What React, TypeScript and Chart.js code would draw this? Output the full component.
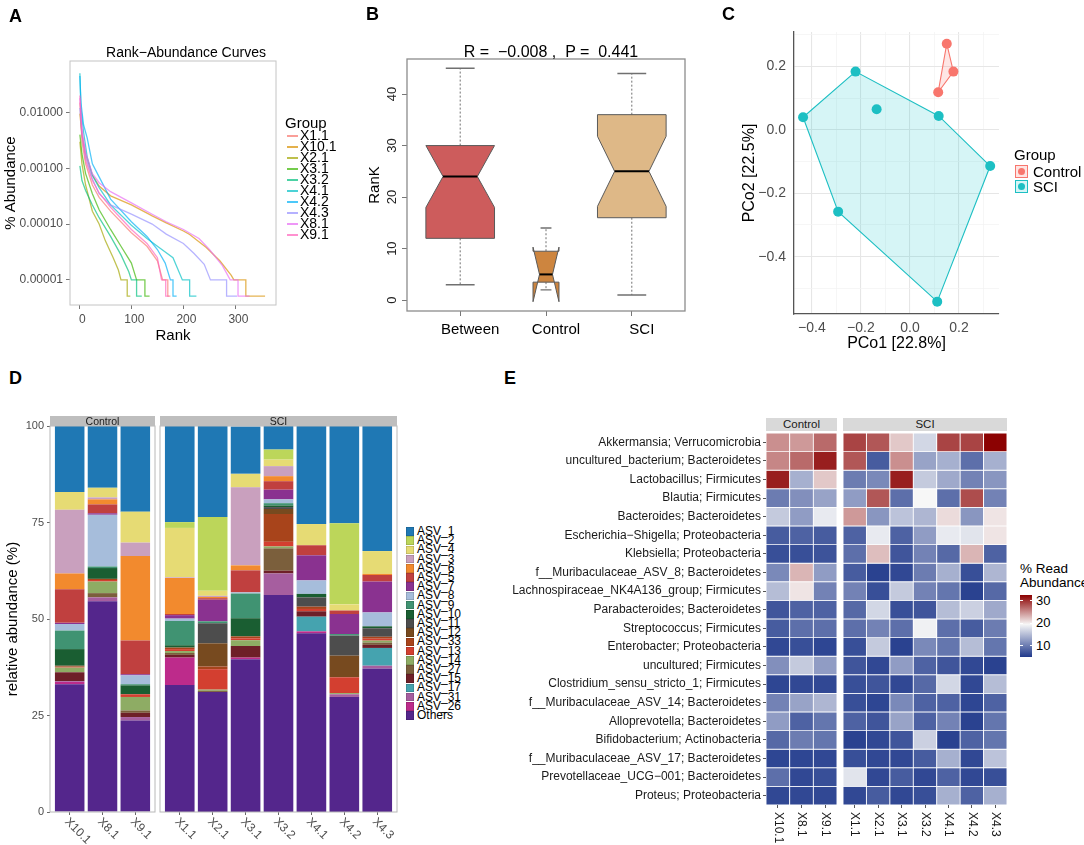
import React, { useEffect, useRef } from "react";
import { Chart, registerables } from "chart.js";

Chart.register(...registerables);

const FONT = "'Liberation Sans', Arial, Helvetica, sans-serif";
Chart.defaults.font.family = FONT;

/* ================= Panel A : rank-abundance curves ================= */
const rankSamples = ["X1.1", "X10.1", "X2.1", "X3.1", "X3.2", "X4.1", "X4.2", "X4.3", "X8.1", "X9.1"];
const rankColors = ["#F8766D", "#D89000", "#A3A500", "#39B600", "#00BF7D", "#00BFC4", "#00B0F6", "#9590FF", "#E76BF3", "#FF62BC"];
const rankTicks = [0, 100, 200, 300];
const abundanceTicks = [0.00001, 0.0001, 0.001, 0.01];

const curveX1_1 = [[1, 0.015], [5, 0.003], [12, 0.0012], [25, 0.0005], [38, 0.0003], [60, 0.00017], [100, 0.00007], [130, 0.00004], [150, 0.000022], [160, 0.00001], [170, 0.00001], [170, 0.0000051], [175, 0.0000051]];
const curveX10_1 = [[1, 0.0095], [5, 0.004], [12, 0.0018], [25, 0.00075], [38, 0.00048], [60, 0.00032], [100, 0.00022], [140, 0.00014], [167, 0.000105], [200, 0.000075], [212, 0.000065], [244, 0.000038], [270, 0.000022], [292, 0.000012], [297, 0.00001], [320, 0.00001], [320, 0.0000051], [357, 0.0000051]];
const curveX2_1 = [[1, 0.003], [5, 0.0012], [12, 0.0005], [25, 0.00017], [38, 0.0001], [50, 0.00005], [65, 0.000025], [75, 0.000015], [80, 0.00001], [92, 0.00001], [92, 0.0000051], [98, 0.0000051]];
const curveX3_1 = [[1, 0.004], [5, 0.0018], [12, 0.0008], [25, 0.00035], [38, 0.00018], [60, 0.00008], [80, 0.00004], [100, 0.00002], [110, 0.00001], [126, 0.00001], [126, 0.0000051], [135, 0.0000051]];
const curveX3_2 = [[1, 0.0011], [5, 0.0006], [12, 0.0004], [25, 0.00022], [38, 0.00013], [60, 0.00006], [80, 0.000028], [95, 0.000014], [100, 0.00001], [110, 0.00001], [110, 0.0000051], [120, 0.0000051]];
const curveX4_1 = [[1, 0.05], [3, 0.012], [8, 0.0045], [15, 0.0016], [25, 0.00075], [38, 0.00045], [60, 0.00022], [100, 0.000095], [130, 0.000055], [150, 0.00004], [180, 0.000025], [198, 0.00001], [212, 0.00001], [212, 0.0000051], [225, 0.0000051]];
const curveX4_2 = [[1, 0.045], [3, 0.015], [8, 0.006], [15, 0.0035], [25, 0.0012], [38, 0.0007], [60, 0.00028], [100, 0.00011], [130, 0.00006], [150, 0.000035], [165, 0.00002], [175, 0.00001], [180, 0.00001], [180, 0.0000051], [187, 0.0000051]];
const curveX4_3 = [[1, 0.012], [5, 0.004], [12, 0.0016], [25, 0.00065], [38, 0.00035], [60, 0.00022], [100, 0.00015], [140, 0.0001], [167, 0.000066], [200, 0.000045], [220, 0.00003], [240, 0.000019], [252, 0.00001], [283, 0.00001], [283, 0.0000051], [303, 0.0000051]];
const curveX8_1 = [[1, 0.018], [5, 0.005], [12, 0.0019], [25, 0.0008], [38, 0.00055], [60, 0.00038], [100, 0.00024], [140, 0.00015], [167, 0.00011], [200, 0.00008], [230, 0.000055], [250, 0.000035], [275, 0.000018], [290, 0.00001], [305, 0.00001], [305, 0.0000051], [327, 0.0000051]];
const curveX9_1 = [[1, 0.02], [5, 0.004], [12, 0.0014], [25, 0.0006], [38, 0.00036], [60, 0.0002], [100, 0.00008], [130, 0.000045], [150, 0.000025], [158, 0.00001], [166, 0.00001], [166, 0.0000051], [172, 0.0000051]];
const rankCurves = [curveX1_1, curveX10_1, curveX2_1, curveX3_1, curveX3_2, curveX4_1, curveX4_2, curveX4_3, curveX8_1, curveX9_1];

/* ================= Panel B : notched box plot ================= */
const boxGroups = ["Between", "Control", "SCI"];
const boxColors = ["#CD5C5C", "#CD853F", "#DEB887"];
const boxMin = [3, 2, 1];
const boxQ1 = [12, 3.5, 16];
const boxMedian = [24, 5, 25];
const boxQ3 = [30, 9.5, 36];
const boxMax = [45, 14, 44];
const boxNotchLo = [18, -0.3, 18.2];
const boxNotchHi = [30, 10.3, 31.8];
const boxN = [21, 3, 21];
const boxTicks = [0, 10, 20, 30, 40];

/* ================= Panel C : PCoA ================= */
const pcoaControlX = [0.150, 0.177, 0.115];
const pcoaControlY = [0.272, 0.184, 0.119];
const pcoaSCIX = [-0.436, -0.222, -0.136, 0.117, 0.327, -0.293, 0.111];
const pcoaSCIY = [0.040, 0.184, 0.065, 0.044, -0.114, -0.258, -0.542];
const pcoaMajorX = [-0.4, -0.2, 0, 0.2];
const pcoaGridX = [-0.4, -0.3, -0.2, -0.1, 0, 0.1, 0.2, 0.3];
const pcoaMajorY = [-0.4, -0.2, 0, 0.2];
const pcoaGridY = [-0.5, -0.4, -0.3, -0.2, -0.1, 0, 0.1, 0.2, 0.3];

/* ================= Panel D : stacked composition ================= */
const stackSamples = ["X10.1", "X8.1", "X9.1", "X1.1", "X2.1", "X3.1", "X3.2", "X4.1", "X4.2", "X4.3"];
const asvNames = ["ASV_1", "ASV_2", "ASV_4", "ASV_3", "ASV_6", "ASV_5", "ASV_7", "ASV_8", "ASV_9", "ASV_10", "ASV_11", "ASV_12", "ASV_33", "ASV_13", "ASV_14", "ASV_27", "ASV_15", "ASV_17", "ASV_31", "ASV_26", "Others"];
const asvColors = ["#1F78B4", "#BCD65A", "#E6DB74", "#C9A0BE", "#F28A2E", "#C0403F", "#8A3290", "#A6BDDB", "#409372", "#1A5E32", "#4D4D4D", "#774A1F", "#A8441B", "#D33F30", "#8EAC64", "#7B5F3C", "#6E1F28", "#45A3AF", "#A65E9F", "#BD2B8B", "#54268C"];
const asv1 = [17.1, 16.0, 22.3, 25.1, 23.6, 12.3, 6.1, 25.5, 25.3, 32.4];
const asv2 = [0, 0, 0, 1.5, 19.1, 0, 2.6, 0, 21.0, 0];
const asv4 = [4.6, 2.5, 8.0, 12.8, 1.3, 3.5, 1.7, 5.5, 1.6, 5.9];
const asv3 = [16.5, 0.5, 3.5, 0.2, 0.3, 20.2, 2.6, 0, 0, 0];
const asv6 = [4.1, 1.3, 21.9, 9.3, 0.3, 1.3, 1.3, 0, 0, 0.3];
const asv5 = [8.7, 2.3, 8.7, 0.3, 0.4, 5.7, 2.2, 2.6, 0.9, 1.7];
const asv7 = [0.3, 0.4, 0.3, 0.9, 5.6, 0, 2.5, 6.5, 5.2, 8.0];
const asv8 = [1.7, 13.4, 2.3, 0.6, 0, 0.3, 1.0, 3.5, 0, 3.6];
const asv9 = [4.8, 0.4, 0.3, 6.3, 0.5, 6.4, 0.6, 0, 0.4, 0];
const asv10 = [4.3, 2.8, 2.3, 0.6, 0, 4.7, 0.4, 0.9, 0, 0.5];
const asv11 = [0, 0, 0, 0, 5.2, 0, 0.5, 2.4, 5.2, 2.2];
const asv12 = [0.2, 0, 0, 0, 6.0, 0, 1.3, 0, 5.6, 0];
const asv33 = [0.15, 0.3, 0, 0.4, 0.7, 0.5, 7.2, 0.6, 0, 0.5];
const asv13 = [0.15, 0.4, 0.7, 0.5, 5.3, 0.5, 1.2, 0.6, 4.1, 0.5];
const asv14 = [1.2, 3.0, 3.5, 0.5, 0.3, 1.5, 0.5, 0, 0.3, 0.5];
const asv27 = [0, 1.1, 0.6, 0.5, 0.3, 0, 5.8, 0, 0, 0.6];
const asv15 = [2.3, 0, 1.1, 0.7, 0, 3.0, 0.7, 1.4, 0, 0.8];
const asv17 = [0, 0, 0, 0, 0, 0, 0, 3.8, 0, 4.6];
const asv31 = [0.2, 1.0, 0.9, 0, 0, 0, 5.6, 0, 0.7, 0.7];
const asv26 = [0.6, 0, 0, 7.1, 0, 0.4, 0, 0.5, 0, 0];
const asvOthers = [33.1, 54.6, 23.7, 32.9, 31.1, 39.6, 56.2, 46.3, 29.8, 37.2];
const asvValues = [asv1, asv2, asv4, asv3, asv6, asv5, asv7, asv8, asv9, asv10, asv11, asv12, asv33, asv13, asv14, asv27, asv15, asv17, asv31, asv26, asvOthers];
const stackTicks = [0, 25, 50, 75, 100];

/* ================= Panel E : heatmap ================= */
const heatControlSamples = ["X10.1", "X8.1", "X9.1"];
const heatSCISamples = ["X1.1", "X2.1", "X3.1", "X3.2", "X4.1", "X4.2", "X4.3"];
const heatRows = [
  "Akkermansia; Verrucomicrobia",
  "uncultured_bacterium; Bacteroidetes",
  "Lactobacillus; Firmicutes",
  "Blautia; Firmicutes",
  "Bacteroides; Bacteroidetes",
  "Escherichia\u2212Shigella; Proteobacteria",
  "Klebsiella; Proteobacteria",
  "f__Muribaculaceae_ASV_8; Bacteroidetes",
  "Lachnospiraceae_NK4A136_group; Firmicutes",
  "Parabacteroides; Bacteroidetes",
  "Streptococcus; Firmicutes",
  "Enterobacter; Proteobacteria",
  "uncultured; Firmicutes",
  "Clostridium_sensu_stricto_1; Firmicutes",
  "f__Muribaculaceae_ASV_14; Bacteroidetes",
  "Alloprevotella; Bacteroidetes",
  "Bifidobacterium; Actinobacteria",
  "f__Muribaculaceae_ASV_17; Bacteroidetes",
  "Prevotellaceae_UCG\u2212001; Bacteroidetes",
  "Proteus; Proteobacteria",
];
const heatControl = [
  [25, 24.5, 27], [25.5, 27, 31], [31, 14, 22], [10, 11.5, 13], [16, 12.5, 18.5],
  [7.5, 8, 7.5], [6.5, 6.5, 6.8], [11, 23, 12.5], [15, 20.5, 10.5], [7, 8, 8],
  [7.5, 9, 9], [6, 6.5, 5.8], [11.5, 16, 12.5], [5.8, 6, 6], [10.5, 13, 14.5],
  [12.5, 8, 9.5], [8.5, 10, 9.5], [5.8, 5.8, 6], [9, 6, 6.5], [6, 6, 6],
];
const heatSCI = [
  [29, 28, 22, 17, 29, 29, 32.5],
  [28, 7.5, 25, 13, 14, 9, 14],
  [10, 11, 31, 16, 13.5, 10.5, 12],
  [12.5, 28, 9, 19.5, 9, 28.5, 10.5],
  [24.5, 12, 15.5, 14.5, 21, 12, 20.5],
  [8, 18.5, 8, 12.5, 18.5, 18, 20.5],
  [9, 22.5, 7, 10.5, 8.5, 23, 8],
  [7.5, 5.5, 6, 10, 14, 6.5, 14.5],
  [10.5, 6.5, 16, 10.5, 9.5, 5.5, 8.5],
  [8.5, 17, 6.5, 7, 15, 16.5, 13.5],
  [9, 10.5, 9, 19, 9, 7.5, 10],
  [6.5, 16, 5.5, 11, 9.5, 15, 9.5],
  [7, 6, 12.5, 8, 7, 6, 5.5],
  [6.5, 7, 6, 8.5, 17, 6, 15],
  [6.5, 5.8, 11, 8, 8, 5.8, 8],
  [8, 7, 13, 8, 10.5, 5.5, 9.5],
  [5.5, 6, 7, 16.5, 5.5, 8, 9.5],
  [6.5, 6, 6, 7.5, 14, 6, 15.5],
  [18, 6, 7.5, 6, 8, 6, 6.5],
  [6, 7.5, 6, 6.5, 14, 8, 14],
];
const heatLegendTicks = [10, 20, 30];
const heatMin = 4.9;
const heatMid = 19.5;
const heatMax = 32.6;

/* ================= helpers ================= */
function withAlpha(hex: string, a: number) {
  const n = parseInt(hex.slice(1), 16);
  return `rgba(${(n >> 16) & 255},${(n >> 8) & 255},${n & 255},${a})`;
}
const HEAT_LOW = [33, 58, 140];
const HEAT_MID = [247, 247, 247];
const HEAT_HIGH = [139, 0, 0];
function heatColor(v: number) {
  let a, b, t;
  if (v <= heatMid) { a = HEAT_LOW; b = HEAT_MID; t = (v - heatMin) / (heatMid - heatMin); }
  else { a = HEAT_MID; b = HEAT_HIGH; t = (v - heatMid) / (heatMax - heatMid); }
  t = Math.max(0, Math.min(1, t));
  const c = a.map((x, i) => Math.round(x + (b[i] - x) * t));
  return `rgb(${c[0]},${c[1]},${c[2]})`;
}
function convexHull(xs: number[], ys: number[]) {
  const pts = xs.map((x, i) => ({ x, y: ys[i] })).sort((p, q) => p.x - q.x || p.y - q.y);
  const cross = (o: any, a: any, b: any) => (a.x - o.x) * (b.y - o.y) - (a.y - o.y) * (b.x - o.x);
  const lower: any[] = [];
  for (const p of pts) { while (lower.length >= 2 && cross(lower[lower.length - 2], lower[lower.length - 1], p) <= 0) lower.pop(); lower.push(p); }
  const upper: any[] = [];
  for (let i = pts.length - 1; i >= 0; i--) { const p = pts[i]; while (upper.length >= 2 && cross(upper[upper.length - 2], upper[upper.length - 1], p) <= 0) upper.pop(); upper.push(p); }
  upper.pop(); lower.pop();
  const hull = lower.concat(upper);
  hull.push(hull[0]);
  return hull;
}
function near(v: number, list: number[]) { return list.some((m) => Math.abs(m - v) < 1e-6); }
function fmtSigned(v: number) { return (v < -1e-9 ? "\u2212" : "") + Math.abs(v).toFixed(1); }

function framePlugin(color: string, width: number) {
  return {
    id: "frame",
    afterDraw(chart: any) {
      const { ctx, chartArea } = chart;
      ctx.save();
      ctx.strokeStyle = color;
      ctx.lineWidth = width;
      ctx.strokeRect(chartArea.left, chartArea.top, chartArea.right - chartArea.left, chartArea.bottom - chartArea.top);
      ctx.restore();
    },
  };
}
function rotLabelPlugin(labels: string[], angle: number, offset: number, dx: number, font: string, color: string) {
  return {
    id: "rotLabels",
    afterDraw(chart: any) {
      const { ctx } = chart;
      const xs = chart.scales.x;
      ctx.save();
      ctx.font = font;
      ctx.fillStyle = color;
      ctx.textAlign = "left";
      ctx.textBaseline = "middle";
      labels.forEach((lab, i) => {
        const px = xs.getPixelForValue(i + 1);
        ctx.save();
        ctx.translate(px + dx, chart.chartArea.bottom + offset);
        ctx.rotate((angle * Math.PI) / 180);
        ctx.fillText(lab, 0, 0);
        ctx.restore();
      });
      ctx.restore();
    },
  };
}
const boxPlugin = {
  id: "notchBoxes",
  afterDatasetsDraw(chart: any) {
    const { ctx } = chart;
    const xs = chart.scales.x;
    const ys = chart.scales.y;
    const unit = xs.getPixelForValue(1) - xs.getPixelForValue(0);
    const nMax = Math.max(...boxN);
    const Y = (v: number) => ys.getPixelForValue(v);
    boxGroups.forEach((g, i) => {
      const xc = xs.getPixelForValue(i + 1);
      const hw = 0.4 * unit * Math.sqrt(boxN[i] / nMax);
      ctx.save();
      ctx.strokeStyle = "#707070";
      ctx.lineWidth = 1;
      ctx.setLineDash([2, 2]);
      ctx.beginPath();
      ctx.moveTo(xc, Y(boxQ3[i])); ctx.lineTo(xc, Y(boxMax[i]));
      ctx.moveTo(xc, Y(boxQ1[i])); ctx.lineTo(xc, Y(boxMin[i]));
      ctx.stroke();
      ctx.setLineDash([]);
      ctx.lineWidth = 1.4;
      const sw = hw * 0.42;
      ctx.beginPath();
      ctx.moveTo(xc - sw, Y(boxMax[i])); ctx.lineTo(xc + sw, Y(boxMax[i]));
      ctx.moveTo(xc - sw, Y(boxMin[i])); ctx.lineTo(xc + sw, Y(boxMin[i]));
      ctx.stroke();
      const pts: [number, number][] = [
        [xc - hw, boxQ1[i]], [xc - hw, boxNotchLo[i]], [xc - hw / 2, boxMedian[i]], [xc - hw, boxNotchHi[i]], [xc - hw, boxQ3[i]],
        [xc + hw, boxQ3[i]], [xc + hw, boxNotchHi[i]], [xc + hw / 2, boxMedian[i]], [xc + hw, boxNotchLo[i]], [xc + hw, boxQ1[i]],
      ];
      ctx.beginPath();
      pts.forEach(([x, v], k) => (k ? ctx.lineTo(x, Y(v)) : ctx.moveTo(x, Y(v))));
      ctx.closePath();
      ctx.fillStyle = boxColors[i];
      ctx.fill();
      ctx.strokeStyle = "#5A5A5A";
      ctx.lineWidth = 1;
      ctx.stroke();
      ctx.strokeStyle = "#000";
      ctx.lineWidth = 2;
      ctx.beginPath();
      ctx.moveTo(xc - hw / 2, Y(boxMedian[i])); ctx.lineTo(xc + hw / 2, Y(boxMedian[i]));
      ctx.stroke();
      ctx.restore();
    });
  },
};

const baseOpts = { responsive: false, animation: false, events: [] as any[] };
const noPlugins = { legend: { display: false }, tooltip: { enabled: false } };

/* ================= chart configs ================= */
function configA() {
  return {
    type: "line",
    data: {
      datasets: rankCurves.map((pts, i) => ({
        label: rankSamples[i],
        data: pts.map((p) => ({ x: p[0], y: p[1] })),
        borderColor: withAlpha(rankColors[i], 0.68),
        backgroundColor: withAlpha(rankColors[i], 0.68),
        borderWidth: 1.3,
        pointRadius: 0,
        tension: 0,
        order: rankCurves.length - i,
      })),
    },
    options: {
      ...baseOpts,
      layout: { padding: { left: 0, top: 61, right: 96, bottom: 0 } },
      plugins: noPlugins,
      scales: {
        x: {
          type: "linear", min: -18, max: 378,
          afterBuildTicks: (s: any) => { s.ticks = rankTicks.map((v) => ({ value: v })); },
          afterFit: (s: any) => { s.height = 40; },
          grid: { drawOnChartArea: false, drawTicks: true, tickLength: 4, color: "#777" },
          border: { display: false },
          ticks: { color: "#4D4D4D", font: { size: 12 }, padding: 3, maxRotation: 0, autoSkip: false, labelOffset: 3, callback: (v: any) => String(v) },
          title: { display: true, text: "Rank", color: "#000", font: { size: 15 }, padding: { top: 0, bottom: 0 } },
        },
        y: {
          type: "logarithmic", min: 3.55e-6, max: 0.0832,
          afterBuildTicks: (s: any) => { s.ticks = abundanceTicks.map((v) => ({ value: v })); },
          afterFit: (s: any) => { s.width = 70; },
          grid: { drawOnChartArea: false, drawTicks: true, tickLength: 4, color: "#777" },
          border: { display: false },
          ticks: { color: "#4D4D4D", font: { size: 12 }, padding: 3, autoSkip: false, callback: (v: any) => Number(v).toFixed(5) },
          title: { display: true, text: "% Abundance", color: "#000", font: { size: 15 }, padding: { top: 2, bottom: 0 } },
        },
      },
    },
    plugins: [framePlugin("#C4C4C4", 1)],
  };
}

function configB() {
  return {
    type: "scatter",
    data: { datasets: [{ data: boxGroups.map((g, i) => ({ x: i + 1, y: boxMedian[i] })), pointRadius: 0 }] },
    options: {
      ...baseOpts,
      layout: { padding: { left: 0, top: 59, right: 15, bottom: 0 } },
      plugins: noPlugins,
      scales: {
        x: {
          type: "linear", min: 0.38, max: 3.62, offset: false,
          afterBuildTicks: (s: any) => { s.ticks = boxGroups.map((g, i) => ({ value: i + 1 })); },
          afterFit: (s: any) => { s.height = 34; },
          grid: { drawOnChartArea: false, drawTicks: true, tickLength: 5, color: "#777" },
          border: { display: false },
          ticks: { color: "#000", font: { size: 15 }, padding: 5, maxRotation: 0, autoSkip: false, labelOffset: 10, callback: (v: any) => boxGroups[Math.round(v) - 1] },
        },
        y: {
          type: "linear", min: -2.1, max: 46.8,
          afterBuildTicks: (s: any) => { s.ticks = boxTicks.map((v) => ({ value: v })); },
          afterFit: (s: any) => { s.width = 67; },
          grid: { drawOnChartArea: false, drawTicks: true, tickLength: 5, color: "#777" },
          border: { display: false },
          ticks: { color: "#222", font: { size: 13 }, padding: 2, minRotation: 90, maxRotation: 90, crossAlign: "center", autoSkip: false, callback: (v: any) => String(v) },
          title: { display: true, text: "RanK", color: "#000", font: { size: 15 }, padding: { top: 26, bottom: 0 } },
        },
      },
    },
    plugins: [boxPlugin, framePlugin("#8C8C8C", 1.3)],
  };
}

function configC() {
  const ctrlHull = convexHull(pcoaControlX, pcoaControlY);
  const sciHull = convexHull(pcoaSCIX, pcoaSCIY);
  return {
    type: "scatter",
    data: {
      datasets: [
        { label: "Control", data: pcoaControlX.map((x, i) => ({ x, y: pcoaControlY[i] })), pointRadius: 5, backgroundColor: "#F8766D", borderWidth: 0, order: 0 },
        { label: "SCI", data: pcoaSCIX.map((x, i) => ({ x, y: pcoaSCIY[i] })), pointRadius: 5, backgroundColor: "#1DBFC3", borderWidth: 0, order: 0 },
        { type: "line", label: "hullC", data: ctrlHull, showLine: true, borderColor: "#F8766D", borderWidth: 1.1, backgroundColor: "rgba(248,118,109,0.18)", fill: "shape", pointRadius: 0, tension: 0, order: 1 },
        { type: "line", label: "hullS", data: sciHull, showLine: true, borderColor: "#1DBFC3", borderWidth: 1.1, backgroundColor: "rgba(0,191,196,0.16)", fill: "shape", pointRadius: 0, tension: 0, order: 2 },
      ],
    },
    options: {
      ...baseOpts,
      layout: { padding: { left: 0, top: 32, right: 85, bottom: 0 } },
      plugins: noPlugins,
      scales: {
        x: {
          type: "linear", min: -0.473, max: 0.363,
          afterBuildTicks: (s: any) => { s.ticks = pcoaGridX.map((v) => ({ value: v })); },
          afterFit: (s: any) => { s.height = 41; },
          grid: {
            drawTicks: false,
            color: (c: any) => (c.tick && near(c.tick.value, pcoaMajorX) ? "#E6E6E6" : "#F2F2F2"),
            lineWidth: (c: any) => (c.tick && near(c.tick.value, pcoaMajorX) ? 1.1 : 0.7),
          },
          border: { display: true, color: "#555", width: 1.3 },
          ticks: { color: "#4D4D4D", font: { size: 14 }, padding: 6, maxRotation: 0, autoSkip: false, callback: (v: any) => (near(v, pcoaMajorX) ? fmtSigned(v) : "") },
          title: { display: true, text: "PCo1 [22.8%]", color: "#000", font: { size: 16 }, padding: { top: 0, bottom: 2 } },
        },
        y: {
          type: "linear", min: -0.581, max: 0.309,
          afterBuildTicks: (s: any) => { s.ticks = pcoaGridY.map((v) => ({ value: v })); },
          afterFit: (s: any) => { s.width = 94; },
          grid: {
            drawTicks: false,
            color: (c: any) => (c.tick && near(c.tick.value, pcoaMajorY) ? "#E6E6E6" : "#F2F2F2"),
            lineWidth: (c: any) => (c.tick && near(c.tick.value, pcoaMajorY) ? 1.1 : 0.7),
          },
          border: { display: true, color: "#555", width: 1.3 },
          ticks: { color: "#4D4D4D", font: { size: 14 }, padding: 8, autoSkip: false, callback: (v: any) => (near(v, pcoaMajorY) ? fmtSigned(v) : "") },
          title: { display: true, text: "PCo2 [22.5%]", color: "#000", font: { size: 16 }, padding: { top: 40, bottom: 0 } },
        },
      },
    },
    plugins: [],
  };
}

function configD(from: number, to: number, withY: boolean, padL: number, padR: number) {
  const names = stackSamples.slice(from, to);
  const order = asvNames.map((_, k) => k).reverse();
  const yAxis: any = {
    type: "linear", stacked: true, min: 0, max: 100, display: withY,
    afterBuildTicks: (s: any) => { s.ticks = stackTicks.map((v) => ({ value: v })); },
    grid: { drawOnChartArea: false, drawTicks: true, tickLength: 3, color: "#666" },
    border: { display: false },
    ticks: { color: "#4D4D4D", font: { size: 11 }, padding: 3, autoSkip: false, callback: (v: any) => String(v) },
    title: { display: true, text: "relative abundance (%)", color: "#000", font: { size: 15 }, padding: { top: 4, bottom: 0 } },
  };
  if (withY) yAxis.afterFit = (s: any) => { s.width = 50; };
  return {
    type: "bar",
    data: {
      datasets: order.map((k) => ({
        label: asvNames[k],
        data: names.map((n, j) => ({ x: j + 1, y: asvValues[k][from + j] })),
        backgroundColor: asvColors[k],
        borderWidth: 0,
        barPercentage: 0.9,
        categoryPercentage: 1,
      })),
    },
    options: {
      ...baseOpts,
      layout: { padding: { left: padL, top: 26, right: padR, bottom: 0 } },
      plugins: noPlugins,
      scales: {
        x: {
          type: "linear", stacked: true, offset: false, min: 0.4, max: names.length + 0.6,
          afterBuildTicks: (s: any) => { s.ticks = names.map((n, j) => ({ value: j + 1 })); },
          afterFit: (s: any) => { s.height = 33; },
          grid: { offset: false, drawOnChartArea: false, drawTicks: true, tickLength: 3, color: "#666" },
          border: { display: false },
          ticks: { display: false },
        },
        y: yAxis,
      },
    },
    plugins: [framePlugin("#B8B8B8", 1), rotLabelPlugin(names, 45, 8, -3, `12px ${FONT}`, "#4D4D4D")],
  };
}

function configE(names: string[], matrix: number[][], withY: boolean, padL: number, padR: number) {
  const yAxis: any = {
    type: "linear", stacked: true, reverse: true, min: 0, max: heatRows.length, display: withY,
    afterBuildTicks: (s: any) => { s.ticks = heatRows.map((r, k) => ({ value: k + 0.5 })); },
    grid: { drawOnChartArea: false, drawTicks: true, tickLength: 3, color: "#555" },
    border: { display: false },
    ticks: { color: "#1A1A1A", font: { size: 12 }, padding: 2, autoSkip: false, callback: (v: any) => heatRows[Math.floor(v)] },
  };
  if (withY) yAxis.afterFit = (s: any) => { s.width = 286; };
  return {
    type: "bar",
    data: {
      datasets: heatRows.map((r, k) => ({
        label: r,
        data: names.map((n, j) => ({ x: j + 1, y: 1 })),
        backgroundColor: names.map((n, j) => heatColor(matrix[k][j])),
        borderColor: "#FFFFFF",
        borderWidth: 0.8,
        borderSkipped: false,
        barPercentage: 1,
        categoryPercentage: 1,
      })),
    },
    options: {
      ...baseOpts,
      layout: { padding: { left: padL, top: 33, right: padR, bottom: 0 } },
      plugins: noPlugins,
      scales: {
        x: {
          type: "linear", stacked: true, offset: false, min: 0.5, max: names.length + 0.5,
          afterBuildTicks: (s: any) => { s.ticks = names.map((n, j) => ({ value: j + 1 })); },
          afterFit: (s: any) => { s.height = 40; },
          grid: { offset: false, drawOnChartArea: false, drawTicks: true, tickLength: 3, color: "#555" },
          border: { display: false },
          ticks: { display: false },
        },
        y: yAxis,
      },
    },
    plugins: [rotLabelPlugin(names, 90, 7, 0, `12px ${FONT}`, "#1A1A1A")],
  };
}

/* ================= components ================= */
function ChartBox({ left, top, width, height, make }: { left: number; top: number; width: number; height: number; make: () => any }) {
  const ref = useRef<HTMLCanvasElement>(null);
  useEffect(() => {
    const chart = new Chart(ref.current as HTMLCanvasElement, make());
    return () => chart.destroy();
  }, []);
  return (
    <div style={{ position: "absolute", left, top, width, height }}>
      <canvas ref={ref} width={width} height={height} style={{ width, height, display: "block" }} />
    </div>
  );
}

const abs = (left: number, top: number, extra: any = {}) => ({ position: "absolute" as const, left, top, ...extra });

function PanelLetter({ x, y, t }: { x: number; y: number; t: string }) {
  return <div style={abs(x, y, { fontSize: 18, fontWeight: "bold", lineHeight: "20px" })}>{t}</div>;
}
function Strip({ x, y, w, h, t, bg, fs }: { x: number; y: number; w: number; h: number; t: string; bg: string; fs: number }) {
  return (
    <div style={abs(x, y, { width: w, height: h, background: bg, fontSize: fs, lineHeight: `${h}px`, textAlign: "center", color: "#1A1A1A", overflow: "visible", whiteSpace: "nowrap" })}>{t}</div>
  );
}

export default function App() {
  const cbTop = 595, cbBottom = 657;
  const cbY = (v: number) => cbBottom - ((v - heatMin) / (heatMax - heatMin)) * (cbBottom - cbTop);
  const midPct = ((heatMid - heatMin) / (heatMax - heatMin)) * 100;
  return (
    <div style={{ position: "absolute", left: 0, top: 0, width: 1084, height: 845, background: "#fff", fontFamily: FONT, overflow: "hidden", color: "#000" }}>
      <ChartBox left={0} top={0} width={372} height={345} make={configA} />
      <ChartBox left={340} top={0} width={360} height={345} make={configB} />
      <ChartBox left={700} top={0} width={384} height={355} make={configC} />
      <ChartBox left={0} top={400} width={157} height={445} make={() => configD(0, 3, true, 0, 2)} />
      <ChartBox left={157} top={400} width={243} height={445} make={() => configD(3, 10, false, 3, 3)} />
      <ChartBox left={480} top={400} width={360} height={445} make={() => configE(heatControlSamples, heatControl, true, 0, 3)} />
      <ChartBox left={840} top={400} width={170} height={445} make={() => configE(heatSCISamples, heatSCI, false, 3, 3)} />

      <PanelLetter x={9} y={6} t="A" />
      <PanelLetter x={366} y={4} t="B" />
      <PanelLetter x={722} y={4} t="C" />
      <PanelLetter x={9} y={368} t="D" />
      <PanelLetter x={504} y={368} t="E" />

      {/* Panel A title + legend */}
      <div style={abs(86, 43, { width: 200, textAlign: "center", fontSize: 14, lineHeight: "18px" })}>Rank{"\u2212"}Abundance Curves</div>
      <div style={abs(285, 114, { fontSize: 15, lineHeight: "18px" })}>Group</div>
      {rankSamples.map((s, i) => (
        <div key={s} style={abs(286, 130 + i * 11, { height: 11, width: 60 })}>
          <div style={abs(1, 5, { width: 11, height: 1.5, background: withAlpha(rankColors[i], 0.7) })} />
          <div style={abs(14, 0, { fontSize: 14, lineHeight: "11px", whiteSpace: "nowrap" })}>{s}</div>
        </div>
      ))}

      {/* Panel B title */}
      <div style={abs(446, 42, { width: 210, textAlign: "center", fontSize: 16, lineHeight: "20px", whiteSpace: "pre" })}>{"R =  \u22120.008 ,  P =  0.441"}</div>

      {/* Panel C legend */}
      <div style={abs(1014, 146, { fontSize: 15, lineHeight: "18px" })}>Group</div>
      {[{ n: "Control", c: "#F8766D", f: "rgba(248,118,109,0.2)" }, { n: "SCI", c: "#1DBFC3", f: "rgba(0,191,196,0.16)" }].map((g, i) => (
        <div key={g.n}>
          <div style={abs(1015, 165 + i * 15, { width: 13, height: 13, border: `1.2px solid ${g.c}`, background: g.f, boxSizing: "border-box" })}>
            <div style={abs(2, 2, { width: 7, height: 7, borderRadius: "50%", background: g.c })} />
          </div>
          <div style={abs(1033, 163 + i * 15, { fontSize: 15, lineHeight: "17px" })}>{g.n}</div>
        </div>
      ))}

      {/* Panel D strips + legend */}
      <Strip x={50} y={416} w={105} h={10} t="Control" bg="#BEBEBE" fs={10.5} />
      <Strip x={160} y={416} w={237} h={10} t="SCI" bg="#BEBEBE" fs={10.5} />
      {asvNames.map((n, k) => (
        <div key={n} style={abs(406, 527 + k * 9.2, { height: 9.2, width: 60 })}>
          <div style={abs(0, 0.3, { width: 8, height: 8.6, background: asvColors[k], boxShadow: "inset 0 0 0 0.5px rgba(0,0,0,0.25)" })} />
          <div style={abs(11, -1, { fontSize: 12, lineHeight: "10px", whiteSpace: "nowrap" })}>{n}</div>
        </div>
      ))}

      {/* Panel E strips + legend */}
      <Strip x={766} y={418} w={71} h={13} t="Control" bg="#D9D9D9" fs={11.5} />
      <Strip x={843} y={418} w={164} h={13} t="SCI" bg="#D9D9D9" fs={11.5} />
      <div style={abs(1020, 562, { fontSize: 13.5, lineHeight: "14px", whiteSpace: "nowrap" })}>% Read<br />Abundance</div>
      <div style={abs(1020, cbTop, { width: 12, height: cbBottom - cbTop, background: `linear-gradient(to top, ${heatColor(heatMin)} 0%, ${heatColor(heatMid)} ${midPct}%, ${heatColor(heatMax)} 100%)` })} />
      {heatLegendTicks.map((v) => (
        <React.Fragment key={v}>
          <div style={abs(1020, cbY(v) - 0.5, { width: 2.5, height: 1, background: "#fff" })} />
          <div style={abs(1029.5, cbY(v) - 0.5, { width: 2.5, height: 1, background: "#fff" })} />
          <div style={abs(1036, cbY(v) - 8, { fontSize: 13, lineHeight: "16px" })}>{v}</div>
        </React.Fragment>
      ))}
    </div>
  );
}
